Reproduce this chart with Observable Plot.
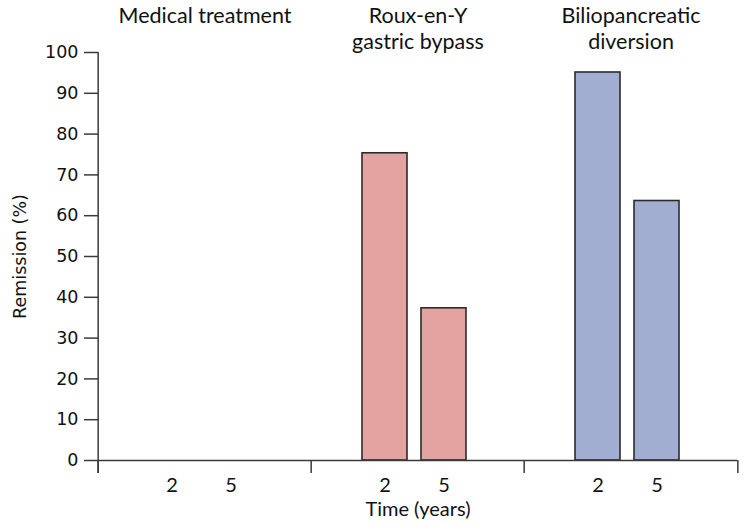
<!DOCTYPE html>
<html>
<head>
<meta charset="utf-8">
<script src="https://cdn.jsdelivr.net/npm/d3@7"></script>
<script src="https://cdn.jsdelivr.net/npm/@observablehq/plot@0.6"></script>
<style>
  html, body { margin: 0; padding: 0; background: #fff; }
  #chart svg { display: block; }
</style>
</head>
<body>
<div id="chart"></div>
<script>
// ---- data ----
const groups = ["Medical treatment", "Roux-en-Y gastric bypass", "Biliopancreatic diversion"];
const groupTitles = ["Medical treatment", "Roux-en-Y\ngastric bypass", "Biliopancreatic\ndiversion"];
const times = ["2", "5"];
const medicalValues = [0, 0];
const rouxValues = [75.3, 37.3];
const biliopancreaticValues = [95.1, 63.6];
const yTicks = [0, 10, 20, 30, 40, 50, 60, 70, 80, 90, 100];
const groupColors = ["#d9d9d9", "#e3a4a1", "#a1aed2"];
const yLabel = "Remission (%)";
const xLabel = "Time (years)";

const seriesByGroup = [medicalValues, rouxValues, biliopancreaticValues];
const rows = groups.flatMap((g, i) => times.map((t, j) => ({group: g, time: t, value: seriesByGroup[i][j]})));

const W = 748, H = 526, ML = 97, MR = 10, MT = 52, MB = 66;
const fw = (W - ML - MR) / groups.length;
const frameH = H - MT - MB;
const axisColor = "#3a3a3a";
const titleFont = "Lato, 'Open Sans', sans-serif";
const numFont = "'DejaVu Sans', Verdana, sans-serif";

const chart = Plot.plot({
  width: W,
  height: H,
  marginLeft: ML,
  marginRight: MR,
  marginTop: MT,
  marginBottom: MB,
  style: {fontFamily: "'Open Sans', sans-serif", fontSize: "18px", color: "#111", background: "#fff", overflow: "visible"},
  fx: {domain: groups, padding: 0, axis: null},
  x: {domain: times, paddingInner: 0.24, paddingOuter: 0.92, align: 0.47, axis: null},
  y: {domain: [0, 100], axis: null},
  color: {domain: groups, range: groupColors},
  marks: [
    Plot.barY(rows, {fx: "group", x: "time", y: "value", fill: "group", stroke: "#2b2b2b", strokeWidth: 1.6}),
    Plot.ruleY([0], {stroke: axisColor, strokeWidth: 1.5}),
    // y axis line (left facet)
    Plot.ruleX([groups[0]], {fx: d => d, x: null, dx: -fw / 2, insetBottom: -13, stroke: axisColor, strokeWidth: 1.5}),
    // group divider ticks
    Plot.ruleX(groups, {fx: d => d, x: null, dx: -fw / 2, insetTop: frameH, insetBottom: -13, stroke: axisColor, strokeWidth: 1.5}),
    Plot.ruleX([groups[groups.length - 1]], {fx: d => d, x: null, dx: fw / 2, insetTop: frameH, insetBottom: -13, stroke: axisColor, strokeWidth: 1.5}),
    Plot.axisY({ticks: yTicks, tickSize: 14, tickPadding: 6, label: null, stroke: axisColor, strokeWidth: 1.5, fontSize: 17.5, fontFamily: numFont, fill: "#111"}),
    Plot.axisX({tickSize: 0, tickPadding: 17, label: null, fontSize: 20, fontFamily: titleFont, fill: "#111"}),
    Plot.text(groups, {fx: d => d, text: d => groupTitles[groups.indexOf(d)], frameAnchor: "top", lineAnchor: "top", dy: -49, lineHeight: 1.25, fontSize: 21.5, fontFamily: titleFont, fill: "#111"}),
    Plot.text([yLabel], {fx: () => groups[0], text: d => d, frameAnchor: "left", textAnchor: "middle", rotate: -90, dx: -78, fontSize: 17.5, fontFamily: numFont, fill: "#111"}),
    Plot.text([xLabel], {fx: () => groups[1], text: d => d, frameAnchor: "bottom", lineAnchor: "top", dy: 41, fontSize: 20, fontFamily: titleFont, fill: "#111"})
  ]
});

document.getElementById("chart").appendChild(chart);
</script>
</body>
</html>
